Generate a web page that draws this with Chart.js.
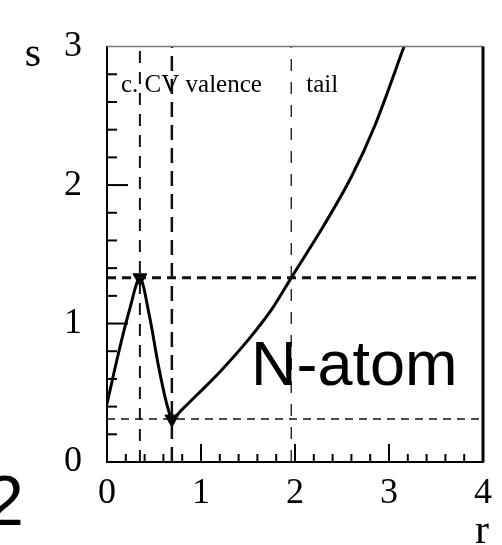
<!DOCTYPE html>
<html>
<head>
<meta charset="utf-8">
<script src="https://cdn.jsdelivr.net/npm/chart.js@4.4.1/dist/chart.umd.min.js"></script>
<style>
	html, body { margin: 0; padding: 0; background: #fff; }
	#wrap { width: 502px; height: 545px; }
</style>
</head>
<body>
<div id="wrap"><canvas id="sChart" width="502" height="545"></canvas></div>
<script>
// s(r) curve for the N atom
var rValues = [0, 0.12, 0.24, 0.35, 0.45, 0.54, 0.61, 0.66, 0.69, 0.80, 0.95, 1.20, 1.50, 1.75, 1.96, 2.30, 2.60, 2.85, 3.16];
var sValues = [0.42, 0.78, 1.10, 1.33, 1.06, 0.72, 0.49, 0.36, 0.31, 0.38, 0.48, 0.65, 0.88, 1.10, 1.33, 1.70, 2.06, 2.43, 3.00];

// extrema marked on the curve
var markR = [0.35, 0.69];
var markS = [1.33, 0.31];

// region borders (vertical) and levels (horizontal)
var regionR = [0.35, 0.69, 1.96];
var levelS = [1.33, 0.31];

var xTickLabels = ['0', '1', '2', '3', '4'];
var yTickLabels = ['0', '1', '2', '3'];

var serif = '"Liberation Serif", "DejaVu Serif", serif';
var sans = '"Liberation Sans", Arial, sans-serif';

function pts(xs, ys) {
	return xs.map(function (x, i) { return { x: x, y: ys[i] }; });
}

function vline(r, width, dash) {
	return {
		data: [{ x: r, y: 0 }, { x: r, y: 3 }],
		showLine: true, borderColor: '#111', borderWidth: width, borderDash: dash,
		pointRadius: 0, fill: false
	};
}
function hline(s, width, dash) {
	return {
		data: [{ x: 0, y: s }, { x: 4, y: s }],
		showLine: true, borderColor: '#111', borderWidth: width, borderDash: dash,
		pointRadius: 0, fill: false
	};
}

// inner ticks, frame and free text
var decor = {
	id: 'decor',
	afterDatasetsDraw: function (chart) {
		var ctx = chart.ctx;
		var a = chart.chartArea;
		var xs = chart.scales.x, ys = chart.scales.y;
		ctx.save();
		ctx.strokeStyle = '#000';

		// y ticks every 0.2, inside
		ctx.lineWidth = 2;
		for (var i = 1; i < 15; i++) {
			var yy = ys.getPixelForValue(i * 0.2);
			var len = (i % 5 === 0) ? 21 : 10;
			ctx.beginPath();
			ctx.moveTo(a.left, yy);
			ctx.lineTo(a.left + len, yy);
			ctx.stroke();
		}
		// x ticks every 0.2, inside
		for (var j = 1; j < 20; j++) {
			var xx = xs.getPixelForValue(j * 0.2);
			var l2 = (j % 5 === 0) ? 18 : 8;
			ctx.beginPath();
			ctx.moveTo(xx, a.bottom);
			ctx.lineTo(xx, a.bottom - l2);
			ctx.stroke();
		}

		// top and right frame
		ctx.strokeStyle = '#777';
		ctx.lineWidth = 1.5;
		ctx.beginPath();
		ctx.moveTo(a.left, a.top);
		ctx.lineTo(a.right, a.top);
		ctx.stroke();
		ctx.strokeStyle = '#000';
		ctx.lineWidth = 3;
		ctx.beginPath();
		ctx.moveTo(a.right, a.top);
		ctx.lineTo(a.right, a.bottom);
		ctx.stroke();

		ctx.fillStyle = '#000';
		ctx.textBaseline = 'alphabetic';

		// region names
		ctx.font = '25px ' + serif;
		ctx.textAlign = 'left';
		ctx.fillText('c. CV valence', a.left + 14, 92);
		ctx.fillText('tail', xs.getPixelForValue(1.96) + 15, 92);

		// axis names
		ctx.font = '42px ' + serif;
		ctx.textAlign = 'center';
		ctx.fillText('s', 33, 66);
		ctx.fillText('r', 482, 543);

		// panel text
		ctx.font = '63px ' + sans;
		ctx.textAlign = 'left';
		ctx.fillText('N-atom', 251, 385);

		ctx.font = '70px ' + sans;
		ctx.textAlign = 'right';
		ctx.fillText('2', 24, 525);
		ctx.restore();
	}
};

new Chart(document.getElementById('sChart'), {
	type: 'scatter',
	data: {
		datasets: [
			vline(regionR[0], 2, [12, 9]),
			vline(regionR[1], 2.5, [15, 8]),
			vline(regionR[2], 1.3, [12, 11]),
			hline(levelS[0], 3, [9, 6]),
			hline(levelS[1], 1.5, [8, 6]),
			{
				data: pts(rValues, sValues),
				showLine: true,
				borderColor: '#000',
				borderWidth: 3,
				tension: 0.3,
				pointRadius: 0,
				fill: false
			},
			{
				data: pts(markR, markS),
				showLine: false,
				pointStyle: 'triangle',
				rotation: 180,
				pointRadius: 8,
				backgroundColor: '#000',
				borderColor: '#000'
			}
		]
	},
	options: {
		responsive: false,
		animation: false,
		layout: { padding: { top: 23, right: 15, left: 0, bottom: 0 } },
		scales: {
			x: {
				type: 'linear',
				min: 0, max: 4,
				afterFit: function (scale) { scale.height = 83; },
				grid: { display: false, drawTicks: false },
				border: { display: true, color: '#000', width: 2 },
				ticks: {
					stepSize: 0.2,
					autoSkip: false,
					maxRotation: 0,
					padding: 10,
					color: '#000',
					font: { family: serif, size: 36 },
					callback: function (v) {
						var k = Math.round(v);
						return Math.abs(v - k) < 1e-6 ? xTickLabels[k] : '';
					}
				}
			},
			y: {
				type: 'linear',
				min: 0, max: 3,
				afterFit: function (scale) { scale.width = 107; },
				grid: { display: false, drawTicks: false },
				border: { display: true, color: '#000', width: 2 },
				ticks: {
					stepSize: 0.2,
					autoSkip: false,
					padding: 25,
					color: '#000',
					font: { family: serif, size: 36 },
					callback: function (v) {
						var k = Math.round(v);
						return Math.abs(v - k) < 1e-6 ? yTickLabels[k] : '';
					}
				}
			}
		},
		plugins: {
			legend: { display: false },
			tooltip: { enabled: false }
		}
	},
	plugins: [decor]
});
</script>
</body>
</html>
